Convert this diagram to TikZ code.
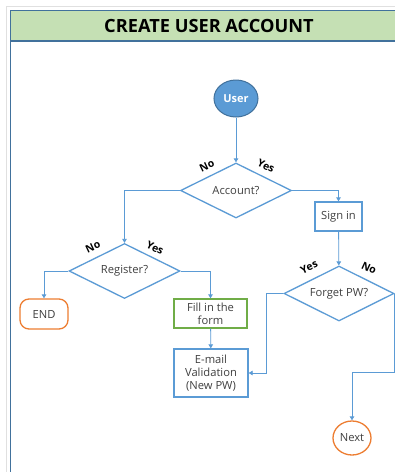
\documentclass[tikz,border=0pt]{standalone}
\usepackage{fontspec}
\setmainfont{Open Sans}
\usetikzlibrary{shapes.geometric,arrows.meta}
\definecolor{oblue}{HTML}{5B9BD5}
\definecolor{dblue}{HTML}{41719C}
\definecolor{ogreen}{HTML}{70AD47}
\definecolor{oorange}{HTML}{ED7D31}
\definecolor{lgreen}{HTML}{C5E0B4}
\definecolor{txt}{HTML}{404040}
\begin{document}
\begin{tikzpicture}[x=1pt,y=-1pt,
  every node/.style={font=\fontsize{11.2}{13}\selectfont, text=txt},
  decision/.style={diamond, draw=oblue, line width=1.3pt, fill=white, minimum width=111pt, minimum height=55pt, inner sep=0pt, aspect=2},
  procbox/.style={rectangle, draw=oblue, line width=1.3pt, fill=white, align=center, inner sep=1pt},
  formbox/.style={rectangle, draw=ogreen, line width=1.3pt, fill=white, align=center, inner sep=1pt},
  termnode/.style={draw=oorange, line width=1.3pt, fill=white},
  conn/.style={draw=oblue, line width=0.8pt, -{Triangle[length=4pt,width=4.5pt]}},
  yn/.style={font=\bfseries\fontsize{10.5}{12}\selectfont, text=black, inner sep=0pt}
]
\useasboundingbox (0,0) rectangle (395,472);
\fill[white] (0,0) rectangle (395,472);
% frame
\draw[black!12, line width=1pt] (6.5,480) |- (400,6.5);
\fill[lgreen] (10,10) rectangle (400,41);
\draw[dblue, line width=1.4pt] (10.5,480) |- (400,10.5);
\draw[dblue, line width=1.2pt] (10.5,41) -- (400,41);
\node[font=\bfseries\fontsize{18.2}{21}\selectfont, text=black] (title) at (209,25.5) {CREATE USER ACCOUNT};

% nodes
\node[ellipse, draw=dblue, line width=1pt, fill=oblue, minimum width=44pt, minimum height=37pt, inner sep=0pt, text=white, font=\bfseries\fontsize{11}{13}\selectfont] (user) at (236,98.5) {User};
\node[decision] (acc) at (236,190.5) {Account?};
\node[procbox, minimum width=47pt, minimum height=29pt] (signin) at (338.5,216.5) {Sign in};
\node[decision] (reg) at (124.5,271) {Register?};
\node[decision, minimum width=110pt] (fpw) at (339,293.5) {Forget PW?};
\node[termnode, rounded corners=9pt, minimum width=48pt, minimum height=30pt] (end) at (44,314) {END};
\node[formbox, minimum width=73pt, minimum height=29pt] (fill) at (210.5,313.5) {Fill in the\\form};
\node[procbox, minimum width=74pt, minimum height=48pt] (email) at (211,373) {E-mail\\Validation\\(New PW)};
\node[ellipse, termnode, minimum width=38pt, minimum height=34pt, inner sep=0pt] (next) at (352,438) {Next};

% labels
\node[yn, rotate=25] (l1) at (207,166) {No};
\node[yn, rotate=-25] (l2) at (266,166) {Yes};
\node[yn, rotate=25] (l3) at (93,247) {No};
\node[yn, rotate=-25] (l4) at (155,248) {Yes};
\node[yn, rotate=25] (l5) at (309,267) {Yes};
\node[yn, rotate=-25] (l6) at (369,268) {No};

% connectors
\coordinate (yb) at (266,0);
\coordinate (kink) at (352,372.5);
\draw[conn] (user) -- (acc);
\draw[conn] (acc.west) -| (reg.north);
\draw[conn] (acc.east) -| (signin.north);
\draw[conn] (reg.west) -| (end.north);
\draw[conn] (reg.east) -| (fill.north);
\draw[conn] (fill) -- (email);
\draw[conn] (signin) -- (fpw);
\draw[conn] (fpw.west) -| (yb |- email.east) -- (email.east);
\draw[conn] (fpw.east) |- (kink) -- (next.north);
\end{tikzpicture}
\end{document}
